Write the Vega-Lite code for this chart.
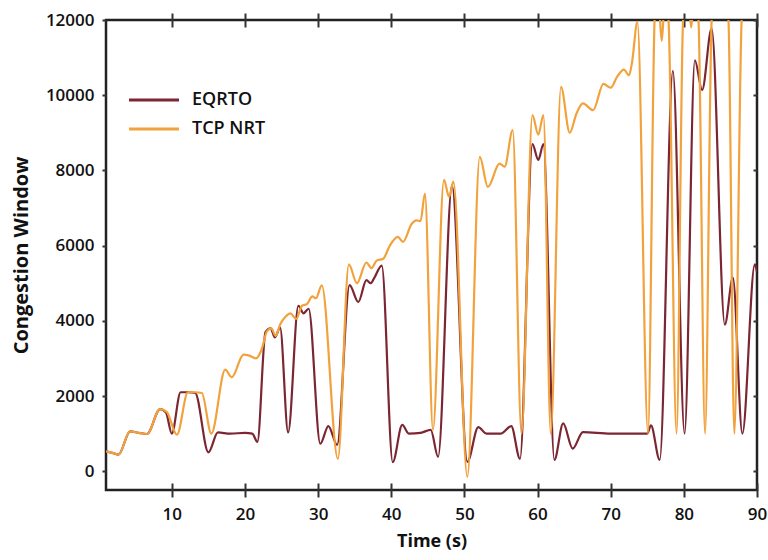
{
  "$schema": "https://vega.github.io/schema/vega-lite/v6.json",
  "width": 651,
  "height": 470,
  "autosize": {"type": "none"},
  "padding": {"left": 106, "top": 20, "right": 11, "bottom": 70},
  "background": "white",
  "config": {
    "view": {"stroke": "#222222", "strokeWidth": 2.5},
    "axis": {
      "grid": false,
      "labelFont": "Open Sans",
      "labelFontSize": 17,
      "labelFontWeight": 600,
      "labelColor": "#111111",
      "titleFont": "Open Sans",
      "titleFontSize": 18,
      "titleFontWeight": "bold",
      "titleColor": "#111111",
      "tickColor": "#333333",
      "tickWidth": 2,
      "labelFlush": false
    },
    "legend": {
      "labelFont": "Open Sans",
      "labelFontSize": 18,
      "labelFontWeight": 600,
      "labelColor": "#111111"
    }
  },
  "datasets": {
    "cw": [
      {"t": 1.0, "cwnd": 530, "series": "EQRTO"},
      {"t": 2.0, "cwnd": 480, "series": "EQRTO"},
      {"t": 2.7, "cwnd": 440, "series": "EQRTO"},
      {"t": 4.3, "cwnd": 1060, "series": "EQRTO"},
      {"t": 5.5, "cwnd": 1020, "series": "EQRTO"},
      {"t": 6.6, "cwnd": 990, "series": "EQRTO"},
      {"t": 8.4, "cwnd": 1650, "series": "EQRTO"},
      {"t": 9.2, "cwnd": 1560, "series": "EQRTO"},
      {"t": 10.0, "cwnd": 1000, "series": "EQRTO"},
      {"t": 11.2, "cwnd": 2100, "series": "EQRTO"},
      {"t": 12.2, "cwnd": 2100, "series": "EQRTO"},
      {"t": 13.2, "cwnd": 2080, "series": "EQRTO"},
      {"t": 15.0, "cwnd": 500, "series": "EQRTO"},
      {"t": 16.3, "cwnd": 1030, "series": "EQRTO"},
      {"t": 18.0, "cwnd": 1000, "series": "EQRTO"},
      {"t": 20.0, "cwnd": 1020, "series": "EQRTO"},
      {"t": 21.0, "cwnd": 1000, "series": "EQRTO"},
      {"t": 21.7, "cwnd": 780, "series": "EQRTO"},
      {"t": 22.8, "cwnd": 3700, "series": "EQRTO"},
      {"t": 23.5, "cwnd": 3800, "series": "EQRTO"},
      {"t": 24.1, "cwnd": 3560, "series": "EQRTO"},
      {"t": 24.8, "cwnd": 3820, "series": "EQRTO"},
      {"t": 25.9, "cwnd": 1030, "series": "EQRTO"},
      {"t": 27.3, "cwnd": 4400, "series": "EQRTO"},
      {"t": 28.0, "cwnd": 4200, "series": "EQRTO"},
      {"t": 28.7, "cwnd": 4320, "series": "EQRTO"},
      {"t": 30.3, "cwnd": 730, "series": "EQRTO"},
      {"t": 31.4, "cwnd": 1200, "series": "EQRTO"},
      {"t": 32.6, "cwnd": 700, "series": "EQRTO"},
      {"t": 34.3, "cwnd": 4950, "series": "EQRTO"},
      {"t": 35.5, "cwnd": 4500, "series": "EQRTO"},
      {"t": 36.6, "cwnd": 5080, "series": "EQRTO"},
      {"t": 37.2, "cwnd": 5000, "series": "EQRTO"},
      {"t": 37.7, "cwnd": 5150, "series": "EQRTO"},
      {"t": 38.7, "cwnd": 5470, "series": "EQRTO"},
      {"t": 40.2, "cwnd": 240, "series": "EQRTO"},
      {"t": 41.5, "cwnd": 1230, "series": "EQRTO"},
      {"t": 42.4, "cwnd": 1000, "series": "EQRTO"},
      {"t": 44.0, "cwnd": 1020, "series": "EQRTO"},
      {"t": 45.4, "cwnd": 1100, "series": "EQRTO"},
      {"t": 46.4, "cwnd": 380, "series": "EQRTO"},
      {"t": 48.3, "cwnd": 7600, "series": "EQRTO"},
      {"t": 50.4, "cwnd": 250, "series": "EQRTO"},
      {"t": 51.9, "cwnd": 1170, "series": "EQRTO"},
      {"t": 53.0, "cwnd": 1000, "series": "EQRTO"},
      {"t": 55.0, "cwnd": 1000, "series": "EQRTO"},
      {"t": 56.4, "cwnd": 1200, "series": "EQRTO"},
      {"t": 57.6, "cwnd": 330, "series": "EQRTO"},
      {"t": 59.3, "cwnd": 8700, "series": "EQRTO"},
      {"t": 60.1, "cwnd": 8280, "series": "EQRTO"},
      {"t": 60.8, "cwnd": 8700, "series": "EQRTO"},
      {"t": 62.3, "cwnd": 300, "series": "EQRTO"},
      {"t": 63.5, "cwnd": 1270, "series": "EQRTO"},
      {"t": 64.8, "cwnd": 600, "series": "EQRTO"},
      {"t": 66.2, "cwnd": 1040, "series": "EQRTO"},
      {"t": 70.0, "cwnd": 1000, "series": "EQRTO"},
      {"t": 75.0, "cwnd": 1000, "series": "EQRTO"},
      {"t": 75.5, "cwnd": 1220, "series": "EQRTO"},
      {"t": 76.7, "cwnd": 300, "series": "EQRTO"},
      {"t": 78.5, "cwnd": 10650, "series": "EQRTO"},
      {"t": 80.1, "cwnd": 1000, "series": "EQRTO"},
      {"t": 81.5, "cwnd": 10930, "series": "EQRTO"},
      {"t": 82.5, "cwnd": 10140, "series": "EQRTO"},
      {"t": 83.8, "cwnd": 11780, "series": "EQRTO"},
      {"t": 85.6, "cwnd": 3900, "series": "EQRTO"},
      {"t": 86.7, "cwnd": 5150, "series": "EQRTO"},
      {"t": 88.0, "cwnd": 1000, "series": "EQRTO"},
      {"t": 89.7, "cwnd": 5500, "series": "EQRTO"},
      {"t": 90.0, "cwnd": 5300, "series": "EQRTO"},

      {"t": 1.0, "cwnd": 530, "series": "TCP NRT"},
      {"t": 2.0, "cwnd": 480, "series": "TCP NRT"},
      {"t": 2.7, "cwnd": 440, "series": "TCP NRT"},
      {"t": 4.3, "cwnd": 1060, "series": "TCP NRT"},
      {"t": 5.5, "cwnd": 1020, "series": "TCP NRT"},
      {"t": 6.6, "cwnd": 990, "series": "TCP NRT"},
      {"t": 8.4, "cwnd": 1650, "series": "TCP NRT"},
      {"t": 9.3, "cwnd": 1580, "series": "TCP NRT"},
      {"t": 10.7, "cwnd": 970, "series": "TCP NRT"},
      {"t": 12.2, "cwnd": 2100, "series": "TCP NRT"},
      {"t": 13.2, "cwnd": 2100, "series": "TCP NRT"},
      {"t": 14.1, "cwnd": 2080, "series": "TCP NRT"},
      {"t": 15.4, "cwnd": 1000, "series": "TCP NRT"},
      {"t": 17.3, "cwnd": 2700, "series": "TCP NRT"},
      {"t": 18.2, "cwnd": 2500, "series": "TCP NRT"},
      {"t": 19.8, "cwnd": 3100, "series": "TCP NRT"},
      {"t": 20.5, "cwnd": 3080, "series": "TCP NRT"},
      {"t": 21.5, "cwnd": 3000, "series": "TCP NRT"},
      {"t": 22.3, "cwnd": 3250, "series": "TCP NRT"},
      {"t": 23.0, "cwnd": 3720, "series": "TCP NRT"},
      {"t": 23.6, "cwnd": 3800, "series": "TCP NRT"},
      {"t": 24.2, "cwnd": 3600, "series": "TCP NRT"},
      {"t": 24.8, "cwnd": 3900, "series": "TCP NRT"},
      {"t": 25.5, "cwnd": 4100, "series": "TCP NRT"},
      {"t": 26.2, "cwnd": 4200, "series": "TCP NRT"},
      {"t": 27.0, "cwnd": 4050, "series": "TCP NRT"},
      {"t": 27.8, "cwnd": 4400, "series": "TCP NRT"},
      {"t": 28.5, "cwnd": 4450, "series": "TCP NRT"},
      {"t": 29.2, "cwnd": 4650, "series": "TCP NRT"},
      {"t": 29.7, "cwnd": 4600, "series": "TCP NRT"},
      {"t": 30.5, "cwnd": 4940, "series": "TCP NRT"},
      {"t": 32.7, "cwnd": 330, "series": "TCP NRT"},
      {"t": 34.2, "cwnd": 5500, "series": "TCP NRT"},
      {"t": 35.3, "cwnd": 5000, "series": "TCP NRT"},
      {"t": 36.6, "cwnd": 5550, "series": "TCP NRT"},
      {"t": 37.3, "cwnd": 5400, "series": "TCP NRT"},
      {"t": 38.0, "cwnd": 5600, "series": "TCP NRT"},
      {"t": 38.9, "cwnd": 5650, "series": "TCP NRT"},
      {"t": 39.8, "cwnd": 6000, "series": "TCP NRT"},
      {"t": 40.9, "cwnd": 6230, "series": "TCP NRT"},
      {"t": 41.6, "cwnd": 6100, "series": "TCP NRT"},
      {"t": 42.8, "cwnd": 6580, "series": "TCP NRT"},
      {"t": 43.4, "cwnd": 6670, "series": "TCP NRT"},
      {"t": 44.0, "cwnd": 6650, "series": "TCP NRT"},
      {"t": 44.6, "cwnd": 7380, "series": "TCP NRT"},
      {"t": 45.7, "cwnd": 1100, "series": "TCP NRT"},
      {"t": 47.2, "cwnd": 7750, "series": "TCP NRT"},
      {"t": 47.9, "cwnd": 7300, "series": "TCP NRT"},
      {"t": 48.5, "cwnd": 7700, "series": "TCP NRT"},
      {"t": 50.4, "cwnd": -150, "series": "TCP NRT"},
      {"t": 52.1, "cwnd": 8360, "series": "TCP NRT"},
      {"t": 53.2, "cwnd": 7560, "series": "TCP NRT"},
      {"t": 54.8, "cwnd": 8180, "series": "TCP NRT"},
      {"t": 55.5, "cwnd": 8100, "series": "TCP NRT"},
      {"t": 56.6, "cwnd": 9070, "series": "TCP NRT"},
      {"t": 57.8, "cwnd": 1000, "series": "TCP NRT"},
      {"t": 59.3, "cwnd": 9470, "series": "TCP NRT"},
      {"t": 60.1, "cwnd": 8950, "series": "TCP NRT"},
      {"t": 60.8, "cwnd": 9470, "series": "TCP NRT"},
      {"t": 61.8, "cwnd": 1000, "series": "TCP NRT"},
      {"t": 63.2, "cwnd": 10220, "series": "TCP NRT"},
      {"t": 64.4, "cwnd": 9000, "series": "TCP NRT"},
      {"t": 65.3, "cwnd": 9500, "series": "TCP NRT"},
      {"t": 66.2, "cwnd": 9780, "series": "TCP NRT"},
      {"t": 67.6, "cwnd": 9600, "series": "TCP NRT"},
      {"t": 69.0, "cwnd": 10300, "series": "TCP NRT"},
      {"t": 70.0, "cwnd": 10200, "series": "TCP NRT"},
      {"t": 70.9, "cwnd": 10500, "series": "TCP NRT"},
      {"t": 71.8, "cwnd": 10680, "series": "TCP NRT"},
      {"t": 72.5, "cwnd": 10530, "series": "TCP NRT"},
      {"t": 72.9, "cwnd": 10850, "series": "TCP NRT"},
      {"t": 73.65, "cwnd": 11950, "series": "TCP NRT"},
      {"t": 75.1, "cwnd": 1000, "series": "TCP NRT"},
      {"t": 76.0, "cwnd": 12000, "series": "TCP NRT"},
      {"t": 76.4, "cwnd": 12900, "series": "TCP NRT"},
      {"t": 77.0, "cwnd": 11450, "series": "TCP NRT"},
      {"t": 77.4, "cwnd": 12700, "series": "TCP NRT"},
      {"t": 77.9, "cwnd": 12000, "series": "TCP NRT"},
      {"t": 79.0, "cwnd": 1000, "series": "TCP NRT"},
      {"t": 79.9, "cwnd": 12000, "series": "TCP NRT"},
      {"t": 80.5, "cwnd": 12800, "series": "TCP NRT"},
      {"t": 81.0, "cwnd": 11800, "series": "TCP NRT"},
      {"t": 81.5, "cwnd": 12800, "series": "TCP NRT"},
      {"t": 82.0, "cwnd": 12000, "series": "TCP NRT"},
      {"t": 82.9, "cwnd": 1000, "series": "TCP NRT"},
      {"t": 83.8, "cwnd": 12000, "series": "TCP NRT"},
      {"t": 84.5, "cwnd": 13500, "series": "TCP NRT"},
      {"t": 85.3, "cwnd": 13500, "series": "TCP NRT"},
      {"t": 86.1, "cwnd": 12000, "series": "TCP NRT"},
      {"t": 86.9, "cwnd": 1000, "series": "TCP NRT"},
      {"t": 87.9, "cwnd": 12000, "series": "TCP NRT"},
      {"t": 88.6, "cwnd": 13500, "series": "TCP NRT"},
      {"t": 89.5, "cwnd": 13500, "series": "TCP NRT"},
      {"t": 90.0, "cwnd": 13500, "series": "TCP NRT"}
    ]
  },
  "data": {"name": "cw"},
  "layer": [
    {
      "mark": {"type": "line", "interpolate": "monotone", "clip": true, "strokeWidth": 2.2},
      "encoding": {
        "x": {
          "field": "t", "type": "quantitative",
          "scale": {"domain": [1, 90], "nice": false, "zero": false},
          "axis": {
            "orient": "bottom", "title": "Time (s)",
            "values": [10, 20, 30, 40, 50, 60, 70, 80, 90],
            "domain": false, "offset": -7, "tickSize": 14,
            "labelPadding": 9, "titlePadding": 10
          }
        },
        "y": {
          "field": "cwnd", "type": "quantitative",
          "scale": {"domain": [-500, 12000], "nice": false, "zero": false},
          "axis": {
            "orient": "left", "title": "Congestion Window", "format": "d",
            "values": [0, 2000, 4000, 6000, 8000, 10000, 12000],
            "domain": false, "tickSize": 4, "labelPadding": 8, "titlePadding": 14,
            "titleFontSize": 20
          }
        },
        "color": {
          "field": "series", "type": "nominal",
          "scale": {"domain": ["EQRTO", "TCP NRT"], "range": ["#7b2632", "#f2a23c"]},
          "legend": {
            "title": null, "orient": "none", "legendX": 39, "legendY": 71,
            "symbolType": "M-5,0L5,0", "symbolSize": 100, "symbolStrokeWidth": 3,
            "labelOffset": 29, "rowPadding": 11
          }
        }
      }
    },
    {
      "mark": {"type": "line", "opacity": 0, "clip": true},
      "encoding": {
        "x": {
          "field": "t", "type": "quantitative",
          "axis": {
            "orient": "top", "title": null, "labels": false,
            "values": [10, 20, 30, 40, 50, 60, 70, 80, 90],
            "domain": false, "offset": -7, "tickSize": 14
          }
        },
        "y": {
          "field": "cwnd", "type": "quantitative",
          "axis": {
            "orient": "right", "title": null, "labels": false,
            "values": [0, 2000, 4000, 6000, 8000, 10000, 12000],
            "domain": false, "offset": -4, "tickSize": 4
          }
        },
        "detail": {"field": "series", "type": "nominal"}
      }
    }
  ]
}
